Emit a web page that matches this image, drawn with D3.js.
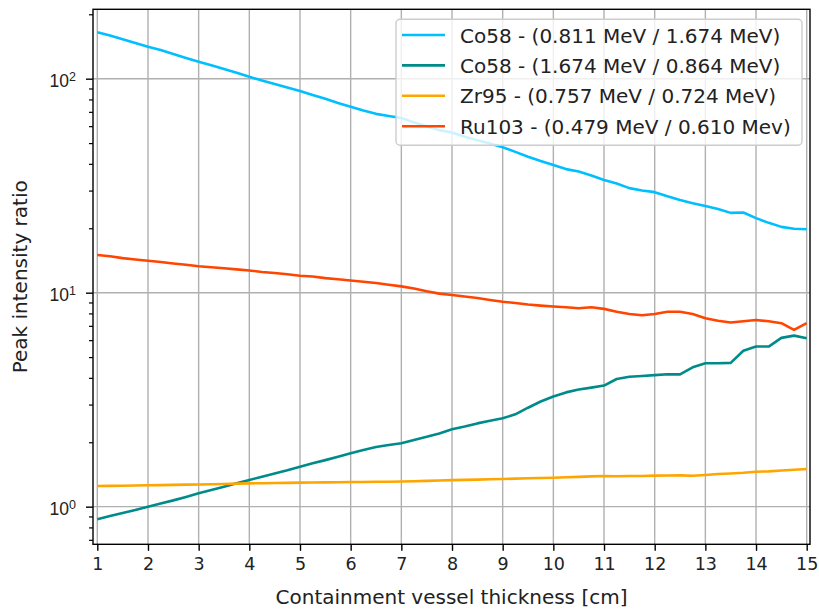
<!DOCTYPE html>
<html>
<head>
<meta charset="utf-8">
<script src="https://cdn.jsdelivr.net/npm/d3@7"></script>
<style>
  html, body { margin: 0; padding: 0; background: #fff; }
  svg { display: block; font-family: "DejaVu Sans", sans-serif; }
</style>
</head>
<body>
<svg id="chart" width="819" height="610"></svg>
<script>
// ---- data ----
const thickness = [1,1.25,1.5,1.75,2,2.25,2.5,2.75,3,3.25,3.5,3.75,4,4.25,4.5,4.75,5,5.25,5.5,5.75,6,6.25,6.5,6.75,7,7.25,7.5,7.75,8,8.25,8.5,8.75,9,9.25,9.5,9.75,10,10.25,10.5,10.75,11,11.25,11.5,11.75,12,12.25,12.5,12.75,13,13.25,13.5,13.75,14,14.25,14.5,14.75,15];

const co58High = [165,159,153,147,141,136,130.5,125,120,115.5,111,106.5,102,98,94.5,91,87.6,84,80.5,77,74,71,68.5,67,65.5,62.5,60,57.5,56,53.5,51.5,49.8,47.8,45.5,43.2,41.2,39.5,37.8,36.8,35.3,33.6,32.4,30.8,30,29.5,28.2,27.1,26.2,25.4,24.6,23.6,23.7,22.3,21.2,20.3,19.9,19.8];

const co58Low = [0.873,0.905,0.935,0.965,1.0,1.035,1.07,1.11,1.155,1.195,1.24,1.285,1.333,1.38,1.43,1.48,1.538,1.595,1.65,1.71,1.776,1.84,1.9,1.94,1.98,2.05,2.12,2.2,2.3,2.37,2.45,2.52,2.59,2.7,2.9,3.1,3.27,3.42,3.53,3.6,3.68,3.95,4.05,4.08,4.12,4.16,4.15,4.48,4.68,4.68,4.7,5.35,5.6,5.6,6.15,6.3,6.12];

const zr95 = [1.249,1.251,1.253,1.256,1.259,1.261,1.264,1.267,1.27,1.273,1.277,1.281,1.285,1.287,1.29,1.292,1.295,1.297,1.299,1.301,1.303,1.305,1.307,1.308,1.31,1.314,1.32,1.325,1.33,1.334,1.338,1.343,1.347,1.352,1.357,1.362,1.366,1.372,1.378,1.385,1.39,1.388,1.392,1.39,1.396,1.398,1.4,1.395,1.406,1.42,1.43,1.44,1.457,1.462,1.475,1.487,1.5];

const ru103 = [15.0,14.8,14.5,14.3,14.1,13.9,13.7,13.5,13.3,13.15,13.0,12.85,12.7,12.5,12.35,12.2,12.0,11.9,11.7,11.55,11.4,11.25,11.1,10.9,10.7,10.45,10.15,9.9,9.75,9.6,9.45,9.25,9.07,8.95,8.8,8.7,8.62,8.55,8.46,8.55,8.4,8.15,7.95,7.85,7.95,8.15,8.15,7.95,7.6,7.4,7.25,7.35,7.45,7.35,7.2,6.7,7.2];

const seriesNames = [
  "Co58 - (0.811 MeV / 1.674 MeV)",
  "Co58 - (1.674 MeV / 0.864 MeV)",
  "Zr95 - (0.757 MeV / 0.724 MeV)",
  "Ru103 - (0.479 MeV / 0.610 Mev)"
];
const seriesColors = ["#00bfff", "#008b8b", "#ffa500", "#ff4500"];
const seriesValues = [co58High, co58Low, zr95, ru103];

const xTicks = [1,2,3,4,5,6,7,8,9,10,11,12,13,14,15];
const yMajorTicks = [1, 10, 100];
const yTickExponents = ["0", "1", "2"];
const xLabel = "Containment vessel thickness [cm]";
const yLabel = "Peak intensity ratio";

// ---- layout ----
const padL = 93, padR = 810, padT = 9.3, padB = 544.3;
const svg = d3.select("#chart");

const x = d3.scaleLinear().domain([0.915, 15.065]).range([padL, padR]);
const y = d3.scaleLog().domain([0.667, 211]).range([padB, padT]);

// grid
const grid = svg.append("g");
grid.selectAll("line.gx").data(xTicks).join("line")
  .attr("x1", d => x(d)).attr("x2", d => x(d))
  .attr("y1", padT).attr("y2", padB)
  .attr("stroke", "#b0b0b0").attr("stroke-width", 1.4);
grid.selectAll("line.gy").data(yMajorTicks).join("line")
  .attr("y1", d => y(d)).attr("y2", d => y(d))
  .attr("x1", padL).attr("x2", padR)
  .attr("stroke", "#b0b0b0").attr("stroke-width", 1.4);

// lines
const plot = svg.append("g");
const lineGen = vals => d3.line()
  .x((d, i) => x(thickness[i]))
  .y(d => y(d))(vals);
seriesValues.forEach((vals, k) => {
  plot.append("path")
    .attr("d", lineGen(vals))
    .attr("fill", "none")
    .attr("stroke", seriesColors[k])
    .attr("stroke-width", 2.6)
    .attr("stroke-linejoin", "round")
    .attr("stroke-linecap", "butt");
});

// x axis
const xAxis = d3.axisBottom(x).tickValues(xTicks).tickSize(6.5).tickPadding(7).tickFormat(d3.format("d"));
const gx = svg.append("g").attr("transform", `translate(0,${padB})`).call(xAxis);
gx.select(".domain").remove();
gx.selectAll(".tick line").attr("stroke", "#000").attr("stroke-width", 1.4);
gx.selectAll(".tick text").attr("fill", "#222").style("font-size", "17.5px")
  .style("font-family", "DejaVu Sans");

// y axis: major ticks with custom label, minor ticks
const minorVals = [];
[0.1, 1, 10, 100].forEach(dec => {
  for (let m = 2; m <= 9; m++) {
    const v = dec * m;
    if (v >= y.domain()[0] && v <= y.domain()[1]) minorVals.push(v);
  }
});
const yAxisMinor = d3.axisLeft(y).tickValues(minorVals).tickSize(4).tickFormat("");
const gym = svg.append("g").attr("transform", `translate(${padL},0)`).call(yAxisMinor);
gym.select(".domain").remove();
gym.selectAll(".tick line").attr("stroke", "#000").attr("stroke-width", 1.2);

const yAxis = d3.axisLeft(y).tickValues(yMajorTicks).tickSize(7).tickFormat("");
const gy = svg.append("g").attr("transform", `translate(${padL},0)`).call(yAxis);
gy.select(".domain").remove();
gy.selectAll(".tick line").attr("stroke", "#000").attr("stroke-width", 1.4);
gy.selectAll(".tick").each(function(d, i) {
  const t = d3.select(this).append("text")
    .attr("x", -17).attr("y", 0).attr("dy", "0.45em")
    .attr("text-anchor", "end").attr("fill", "#222")
    .style("font-size", "17.5px");
  t.append("tspan").text("10");
  t.append("tspan").attr("dy", "-0.5em").style("font-size", "12.5px").text(yTickExponents[i]);
});

// spines
svg.append("rect")
  .attr("x", padL).attr("y", padT)
  .attr("width", padR - padL).attr("height", padB - padT)
  .attr("fill", "none").attr("stroke", "#000").attr("stroke-width", 1.4);

// axis labels
svg.append("text")
  .attr("x", (padL + padR) / 2).attr("y", 604)
  .attr("text-anchor", "middle").attr("fill", "#222")
  .style("font-size", "20px").text(xLabel);
svg.append("text")
  .attr("transform", `translate(27,${(padT + padB) / 2}) rotate(-90)`)
  .attr("text-anchor", "middle").attr("fill", "#222")
  .style("font-size", "20px").text(yLabel);

// legend
const lg = svg.append("g");
lg.append("rect")
  .attr("x", 396).attr("y", 19.3).attr("width", 406).attr("height", 126)
  .attr("rx", 4).attr("fill", "#fff").attr("fill-opacity", 0.8)
  .attr("stroke", "#cccccc").attr("stroke-width", 1.4);
seriesNames.forEach((name, k) => {
  const cy = 35 + k * 30.4;
  lg.append("line")
    .attr("x1", 402).attr("x2", 445).attr("y1", cy).attr("y2", cy)
    .attr("stroke", seriesColors[k]).attr("stroke-width", 2.6);
  lg.append("text")
    .attr("x", 460).attr("y", cy + 7.5)
    .attr("fill", "#222").style("font-size", "20px").text(name);
});
</script>
</body>
</html>
